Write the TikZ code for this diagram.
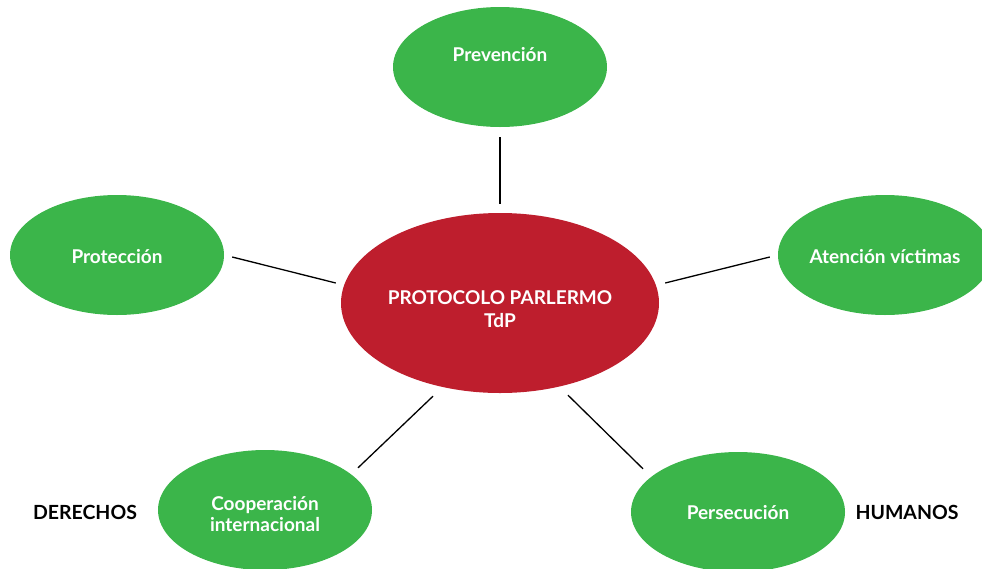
\documentclass[tikz,border=0pt]{standalone}
\usepackage{fontspec}
\setmainfont{Lato}
\usetikzlibrary{shapes.geometric}
\definecolor{leaf}{HTML}{3BB54A}
\definecolor{wine}{HTML}{BE1E2D}
\begin{document}
\begin{tikzpicture}[x=1pt,y=1pt,
  bubble/.style={ellipse,fill=leaf,draw=none,minimum width=214pt,minimum height=120pt,inner sep=0pt},
  core/.style={ellipse,fill=wine,draw=none,minimum width=318pt,minimum height=180pt,inner sep=0pt},
  lbl/.style={text=white,font=\bfseries\fontsize{19}{21}\selectfont,align=center},
  side/.style={text=black,font=\bfseries\fontsize{19.5}{21}\selectfont},
  link/.style={draw=black,line width=1.3pt}]
\useasboundingbox (0,0) rectangle (982,-568);
\node[core] (main) at (500,-303) {};
\node[lbl,font=\bfseries\fontsize{19}{23}\selectfont] (maint) at (500,-309) {PROTOCOLO PARLERMO\\TdP};
\node[bubble] (prev) at (500,-67) {};
\node[lbl] (prevt) at (500,-55) {Prevención};
\node[bubble] (prot) at (117,-255) {};
\node[lbl] (prott) at (117,-257) {Protección};
\node[bubble] (aten) at (885,-255) {};
\node[lbl] (atent) at (885,-257) {Atención víctimas};
\node[bubble] (coop) at (265,-510) {};
\node[lbl] (coopt) at (265,-514) {Cooperación\\internacional};
\node[bubble] (pers) at (738,-512) {};
\node[lbl] (perst) at (738,-513) {Persecución};
\node[side] (der) at (85,-512) {DERECHOS};
\node[side] (hum) at (907,-512) {HUMANOS};
\draw[link] ([yshift=-10pt]prev.south) -- ([yshift=9pt]main.north);
\draw[link] ([shift={(8,-2)}]prot.east) -- ([shift={(-5,20)}]main.west);
\draw[link] ([shift={(-8,-2)}]aten.west) -- ([shift={(6,20)}]main.east);
\draw[link] ([shift={(93,-18)}]coop.north) -- ([shift={(-67,-3)}]main.south);
\draw[link] ([shift={(-95,-17)}]pers.north) -- ([shift={(68,-2)}]main.south);
\end{tikzpicture}
\end{document}
